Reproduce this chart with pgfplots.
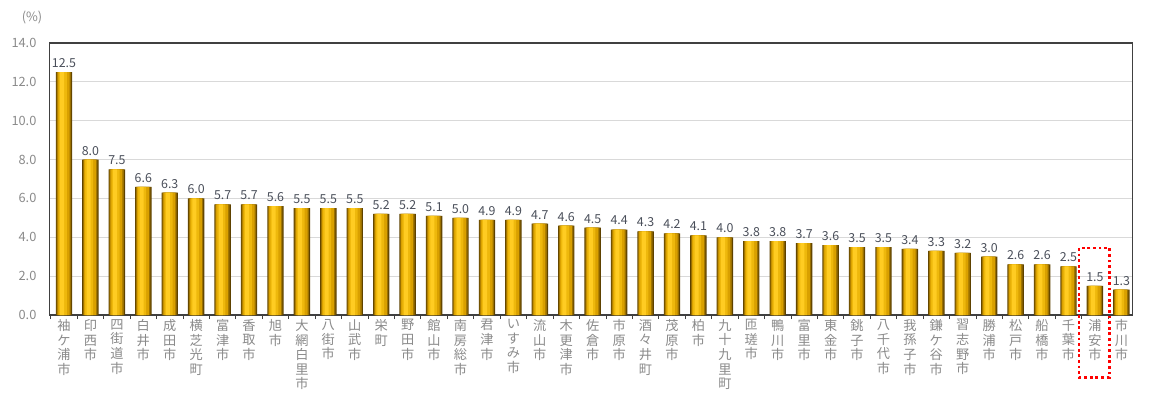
\documentclass[border=0pt]{standalone}
\usepackage{fontspec}
\setmainfont{Noto Sans CJK JP}
\usepackage{pgfplots}
\usepackage{pgfplotstable}
\pgfplotsset{compat=1.18}

\definecolor{gdark}{HTML}{5E4200}
\definecolor{gedge}{HTML}{9A7000}
\definecolor{gmid}{HTML}{D9A000}
\definecolor{gsoft}{HTML}{EEB80C}
\definecolor{glight}{HTML}{FFCC22}
\definecolor{labgray}{HTML}{8A8A8A}
\definecolor{valgray}{HTML}{4A4F5A}
\definecolor{gridgray}{HTML}{D9D9D9}
\definecolor{framegray}{HTML}{404040}

% share of each municipality (%)
\pgfplotstableread{
idx val
0 12.5
1 8.0
2 7.5
3 6.6
4 6.3
5 6.0
6 5.7
7 5.7
8 5.6
9 5.5
10 5.5
11 5.5
12 5.2
13 5.2
14 5.1
15 5.0
16 4.9
17 4.9
18 4.7
19 4.6
20 4.5
21 4.4
22 4.3
23 4.2
24 4.1
25 4.0
26 3.8
27 3.8
28 3.7
29 3.6
30 3.5
31 3.5
32 3.4
33 3.3
34 3.2
35 3.0
36 2.6
37 2.6
38 2.5
39 1.5
40 1.3
}\shares

\begin{document}
\begin{tikzpicture}
\useasboundingbox (-32pt,-40.5pt) rectangle (542.5pt,157.5pt);
\begin{axis}[
  anchor=origin,
  scale only axis,
  width=541.5pt, height=136pt,
  xmin=-0.55, xmax=40.42,
  ymin=0, ymax=14,
  ytick={0,2,...,14},
  xtick={0,...,40},
  minor xtick={-0.5,0.5,...,40.5},
  xticklabels={
    {袖\\ケ\\浦\\市},{印\\西\\市},{四\\街\\道\\市},{白\\井\\市},{成\\田\\市},
    {横\\芝\\光\\町},{富\\津\\市},{香\\取\\市},{旭\\市},{大\\網\\白\\里\\市},
    {八\\街\\市},{山\\武\\市},{栄\\町},{野\\田\\市},{館\\山\\市},
    {南\\房\\総\\市},{君\\津\\市},{い\\す\\み\\市},{流\\山\\市},{木\\更\\津\\市},
    {佐\\倉\\市},{市\\原\\市},{酒\\々\\井\\町},{茂\\原\\市},{柏\\市},
    {九\\十\\九\\里\\町},{匝\\瑳\\市},{鴨\\川\\市},{富\\里\\市},{東\\金\\市},
    {銚\\子\\市},{八\\千\\代\\市},{我\\孫\\子\\市},{鎌\\ケ\\谷\\市},{習\\志\\野\\市},
    {勝\\浦\\市},{松\\戸\\市},{船\\橋\\市},{千\\葉\\市},{浦\\安\\市},{市\\川\\市}},
  xticklabel style={align=center, anchor=north, yshift=-1pt,
    font=\fontsize{6.6pt}{7.3pt}\selectfont, text=labgray, inner sep=1pt},
  yticklabel style={font=\fontsize{6.4pt}{7.5pt}\selectfont, text=labgray, xshift=-3pt},
  /pgf/number format/.cd, fixed, fixed zerofill, precision=1, assume math mode=true,
  /pgfplots/.cd,
  major tick length=0pt,
  minor tick length=2pt,
  xtick pos=bottom,
  ytick pos=left,
  tick style={framegray, line width=0.4pt},
  ymajorgrids,
  grid style={gridgray, line width=0.4pt},
  axis line style={framegray, line width=0.6pt},
  clip=false,
  ybar,
]
% layered fills give each bar a rounded, metallic look
\addplot[draw=none, fill=gdark, bar width=8.2pt, bar shift=0pt] table[x=idx,y=val] {\shares};
\addplot[draw=none, fill=gedge, bar width=7.2pt, bar shift=-0.1pt] table[x=idx,y=val] {\shares};
\addplot[draw=none, fill=gmid, bar width=6.0pt, bar shift=-0.2pt] table[x=idx,y=val] {\shares};
\addplot[draw=none, fill=gsoft, bar width=4.0pt, bar shift=-0.6pt] table[x=idx,y=val] {\shares};
\addplot[draw=none, fill=glight, bar width=2.0pt, bar shift=-0.9pt,
  nodes near coords,
  every node near coord/.append style={font=\fontsize{6.2pt}{7pt}\selectfont,
    text=valgray, inner sep=1pt, yshift=1pt, xshift=0.9pt}] table[x=idx,y=val] {\shares};
% highlight frame around 浦安市
\draw[red, line width=1.4pt, dash pattern=on 1.4pt off 1.4pt]
  (axis cs:38.4,3.45) rectangle (axis cs:39.55,-3.2);
\end{axis}
\node[font=\fontsize{6.4pt}{7.5pt}\selectfont, text=labgray] at (-16pt,148.5pt) {(\%)};
\end{tikzpicture}
\end{document}
